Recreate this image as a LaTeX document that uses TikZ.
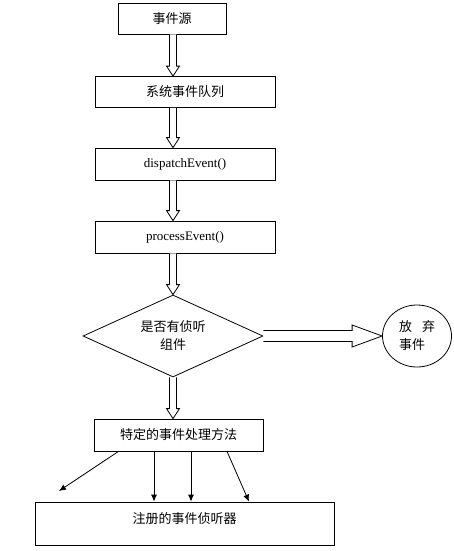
\documentclass[tikz,border=0pt]{standalone}
\usepackage{fontspec}
\setmainfont{Liberation Serif}
\newfontfamily\cjk{Noto Sans CJK SC}
\usetikzlibrary{shapes.geometric,calc,arrows.meta}

\newcommand{\hollowdown}[2]{%
  \draw[hollow] let \p1=(#1), \p2=(#2) in
    (\x1-3.5pt,\y1) -- (\x1-3.5pt,\y2+10pt) -- (\x1-6.5pt,\y2+10pt) -- (\x1,\y2)
    -- (\x1+6.5pt,\y2+10pt) -- (\x1+3.5pt,\y2+10pt) -- (\x1+3.5pt,\y1);}
\newcommand{\hollowright}[2]{%
  \draw[hollow] let \p1=(#1), \p2=(#2) in
    (\x1,\y1+5.5pt) -- (\x2-30pt,\y1+5.5pt) -- (\x2-30pt,\y1+11pt) -- (\x2,\y1)
    -- (\x2-30pt,\y1-11pt) -- (\x2-30pt,\y1-5.5pt) -- (\x1,\y1-5.5pt);}

\begin{document}
\begin{tikzpicture}[x=1pt,y=-1pt,line width=0.8pt,>={Latex[length=7pt,width=6pt]},
      box/.style={draw,rectangle,inner sep=0pt,minimum height=31pt},
      cn/.style={font=\cjk\fontsize{13}{18}\selectfont},
      lat/.style={font=\fontsize{13}{16}\selectfont},
      hollow/.style={draw,fill=white,line width=0.8pt}]
			\useasboundingbox (0,0) rectangle (454,551);
			\node[box,cn,minimum width=108pt] (src) at (172,18.5) {事件源};
			\node[box,cn,minimum width=180pt] (queue) at (185,92) {系统事件队列};
			\node[box,lat,minimum width=180pt,minimum height=32pt] (disp) at (185,164) {dispatchEvent()};
			\node[box,lat,minimum width=180pt,minimum height=32pt] (proc) at (185,237) {processEvent()};
			\node[draw,diamond,aspect=2.2,cn,align=center,inner sep=0pt,
			  minimum width=180pt,minimum height=82pt] (dia) at (173,336) {是否有侦听\\组件};
			\node[draw,ellipse,cn,align=left,inner sep=0pt,
			  minimum width=69pt,minimum height=62pt] (drop) at (417,336) {放\hspace{10pt}弃\\事件};
			\node[box,cn,minimum width=169pt,minimum height=32pt] (handler) at (178.5,435) {特定的事件处理方法};
			\node[box,cn,minimum width=299pt,minimum height=43pt,text height=11pt,
			  text depth=12pt] (listen) at (184.5,523.5) {注册的事件侦听器};
			\coordinate (miss) at (59,491);
			% fat arrows down the column
			\hollowdown{src.south -| dia.north}{queue.north -| dia.north}
			\hollowdown{queue.south -| dia.north}{disp.north -| dia.north}
			\hollowdown{disp.south -| dia.north}{proc.north -| dia.north}
			\hollowdown{proc.south -| dia.north}{dia.north}
			\hollowdown{dia.south}{handler.north -| dia.south}
			\hollowright{dia.east}{drop.west}
			\path[->]
        ([xshift=-60pt]handler.south) edge (miss)
        ([xshift=-24.5pt]handler.south) edge ([xshift=-30.5pt]listen.north)
        ([xshift=12.5pt]handler.south) edge ([xshift=6.5pt]listen.north)
        ([xshift=48.5pt]handler.south) edge ([xshift=64.5pt]listen.north);
		\end{tikzpicture}
\end{document}
